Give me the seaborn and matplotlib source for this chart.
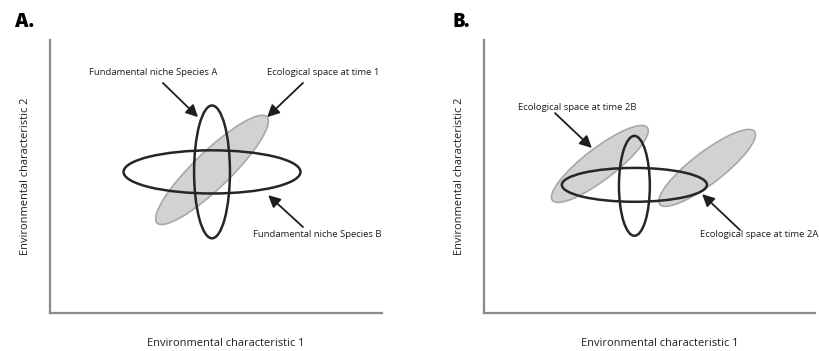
import matplotlib
matplotlib.use("Agg")
import matplotlib.pyplot as plt
from matplotlib.patches import Ellipse
import seaborn as sns

sns.set_theme(style="white")
plt.rcParams["font.family"] = ["Open Sans", "DejaVu Sans"]

# ---- Panel A: two fundamental niches and ecological space at time 1 ----
# ellipse parameters: centre x, centre y, width, height, angle (degrees)
niche_a_A = [4.88, 4.25, 1.08, 4.00, 0]
niche_b_A = [4.88, 4.25, 5.33, 1.30, 0]
eco_space_1 = [4.88, 4.31, 4.60, 1.10, 44]

# ---- Panel B: same niches, ecological space split at time 2 ----
niche_a_B = [4.53, 3.83, 0.93, 3.01, 0]
niche_b_B = [4.53, 3.86, 4.37, 1.02, 0]
eco_space_2B = [3.49, 4.49, 3.60, 0.95, 37.5]
eco_space_2A = [6.72, 4.37, 3.60, 0.95, 37.5]

# annotation text, text anchor (x, y), arrow tail (x, y), arrow head (x, y), alignment
notes_A = [
    ("Fundamental niche Species A", (3.10, 7.23), (3.40, 6.93), (4.46, 5.90), "center"),
    ("Ecological space at time 1", (8.22, 7.23), (7.62, 6.93), (6.54, 5.90), "center"),
    ("Fundamental niche Species B", (8.04, 2.35), (7.62, 2.59), (6.57, 3.55), "center"),
]
notes_B = [
    ("Ecological space at time 2B", (2.80, 6.20), (2.14, 6.02), (3.25, 4.97), "center"),
    ("Ecological space at time 2A", (6.50, 2.35), (7.71, 2.50), (6.57, 3.58), "left"),
]

panel_letters = ["A.", "B."]
x_label = "Environmental characteristic 1"
y_label = "Environmental characteristic 2"

W, H = 819, 351
fig = plt.figure(figsize=(W / 100, H / 100), dpi=100)

axes_px = [(50, 40, 382, 313), (484, 40, 815, 313)]  # left, top, right, bottom
letter_px = [15, 452]

GREY_FILL = "#d2d2d2"
GREY_EDGE = "#a8a8a8"
OUTLINE = "#262626"
AXIS_COL = "#8c8890"


def add_ellipse(ax, p, filled):
    cx, cy, w, h, ang = p
    if filled:
        e = Ellipse((cx, cy), w, h, angle=ang, facecolor=GREY_FILL,
                    edgecolor=GREY_EDGE, lw=1.2, zorder=2)
    else:
        e = Ellipse((cx, cy), w, h, angle=ang, facecolor="none",
                    edgecolor=OUTLINE, lw=1.8, zorder=3)
    ax.add_patch(e)


panels = [
    ([eco_space_1], [niche_a_A, niche_b_A], notes_A),
    ([eco_space_2B, eco_space_2A], [niche_a_B, niche_b_B], notes_B),
]

for i, (fills, outlines, notes) in enumerate(panels):
    l, t, r, b = axes_px[i]
    ax = fig.add_axes([l / W, 1 - b / H, (r - l) / W, (b - t) / H])
    ax.set_xlim(0, (r - l) / 33.2)
    ax.set_ylim(0, (b - t) / 33.2)
    for p in fills:
        add_ellipse(ax, p, True)
    for p in outlines:
        add_ellipse(ax, p, False)
    for text, txy, tail, head, ha in notes:
        ax.text(txy[0], txy[1], text, ha=ha, va="center", fontsize=6.8,
                color="#1e1e1e", clip_on=False, zorder=5)
        ax.annotate("", xy=head, xytext=tail,
                    arrowprops=dict(arrowstyle="-|>,head_length=0.6,head_width=0.3",
                                    color="#1e1e1e", lw=1.3, shrinkA=0, shrinkB=0),
                    zorder=5, annotation_clip=False)
    ax.set_xticks([])
    ax.set_yticks([])
    sns.despine(ax=ax)
    for side in ("left", "bottom"):
        ax.spines[side].set_color(AXIS_COL)
        ax.spines[side].set_linewidth(1.6)
    ax.set_xlabel(x_label, fontsize=7.9, color="#1e1e1e", va="center")
    ax.xaxis.set_label_coords(0.53, -30 / (b - t))
    ax.set_ylabel(y_label, fontsize=7.9, color="#1e1e1e", labelpad=14)
    ax.patch.set_alpha(0)
    fig.text(letter_px[i] / W, 1 - 27 / H, panel_letters[i], ha="left",
             va="baseline", fontsize=13.5, fontweight="heavy", color="black")

fig.savefig("out.png", dpi=100)
